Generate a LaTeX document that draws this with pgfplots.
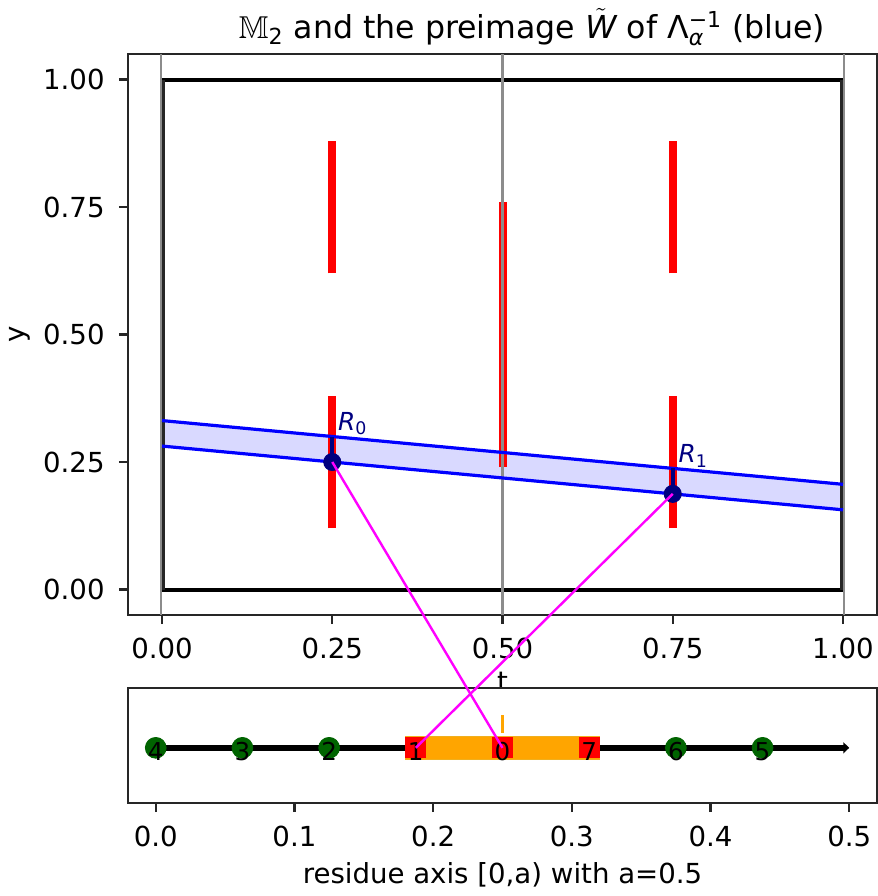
\documentclass[border=0pt]{standalone}
\usepackage{fontspec}
\setmainfont{DejaVu Sans}
\usepackage{amssymb}
\usepackage{pgfplots}
\pgfplotsset{compat=1.18}
\usetikzlibrary{arrows.meta}

\definecolor{bandfill}{RGB}{217,217,255}
\definecolor{navyc}{RGB}{0,0,128}
\definecolor{dgreen}{RGB}{0,100,0}
\definecolor{orng}{RGB}{255,165,0}
\definecolor{orngedge}{RGB}{240,175,30}
\definecolor{gline}{RGB}{140,140,140}
\definecolor{mag}{RGB}{255,0,255}

\newcommand{\tickfont}{\fontsize{13.8}{16}\selectfont}

\pgfplotsset{
  mpl/.style={
    scale only axis, width=374.5pt,
    axis line style={line width=1.1pt, black!85},
    tick align=outside, major tick length=4.5pt,
    tick style={line width=1.1pt, black!85},
    xtick pos=bottom, ytick pos=left,
    tick label style={font=\tickfont},
    label style={font=\tickfont},
    /pgf/number format/assume math mode=true,
    xticklabel style={anchor=north, inner sep=0pt, yshift=-7pt},
    yticklabel style={anchor=east, inner sep=0pt, xshift=-7pt},
  }
}

\begin{document}
\begin{tikzpicture}
\useasboundingbox (0,0) rectangle (439pt,-448pt);

% main panel
\begin{axis}[mpl, name=top,
  at={(64pt,-27pt)}, anchor=north west, height=280.5pt,
  xmin=-0.05, xmax=1.05, ymin=-0.05, ymax=1.05,
  xtick={0,0.25,0.5,0.75,1}, ytick={0,0.25,0.5,0.75,1},
  xticklabel style={/pgf/number format/.cd, fixed, fixed zerofill, precision=2},
  yticklabel style={/pgf/number format/.cd, fixed, fixed zerofill, precision=2},
  xlabel={t}, ylabel={y},
  xlabel style={at={(axis description cs:0.5,0)}, anchor=north, inner sep=0pt, yshift=-28.5pt},
  ylabel style={at={(axis description cs:-0.145,0.5)}, anchor=center, inner sep=0pt},
]
% band
\addplot[fill=bandfill, draw=none] coordinates {(0,0.33125) (1,0.20625) (1,0.15625) (0,0.28125)} -- cycle;
% box
\addplot[black, line width=2pt] coordinates {(0,0) (1,0)};
\addplot[black, line width=2pt] coordinates {(0,1) (1,1)};
\addplot[black!85, line width=1.2pt] coordinates {(0.002,0) (0.002,1)};
\addplot[black!85, line width=1.2pt] coordinates {(0.998,0) (0.998,1)};
% red segments
\addplot[red, line width=4pt] coordinates {(0.25,0.12) (0.25,0.38)};
\addplot[red, line width=4pt] coordinates {(0.25,0.62) (0.25,0.88)};
\addplot[red, line width=4pt] coordinates {(0.5,0.24) (0.5,0.76)};
\addplot[red, line width=4pt] coordinates {(0.75,0.12) (0.75,0.38)};
\addplot[red, line width=4pt] coordinates {(0.75,0.62) (0.75,0.88)};
% gray verticals
\addplot[gline, line width=1.1pt] coordinates {(-0.001,-0.05) (-0.001,1.05)};
\addplot[gline, line width=1.1pt] coordinates {(0.5,-0.05) (0.5,1.05)};
\addplot[gline, line width=1.1pt] coordinates {(1.001,-0.05) (1.001,1.05)};
% band edges
\addplot[blue, line width=1.6pt] coordinates {(0,0.33125) (1,0.20625)};
\addplot[blue, line width=1.6pt] coordinates {(0,0.28125) (1,0.15625)};
% R points
\addplot[navyc, line width=1.8pt] coordinates {(0.25,0.25) (0.25,0.30)};
\addplot[navyc, line width=1.8pt] coordinates {(0.75,0.1875) (0.75,0.2375)};
\addplot[only marks, mark=*, mark size=4.3pt, navyc] coordinates {(0.25,0.25) (0.75,0.1875)};
\node[navyc, anchor=west, inner sep=0pt, font=\fontsize{12.4}{14}\selectfont] at (axis cs:0.258,0.325) {\itshape R\textsubscript{\upshape 0}};
\node[navyc, anchor=west, inner sep=0pt, font=\fontsize{12.4}{14}\selectfont] at (axis cs:0.758,0.262) {\itshape R\textsubscript{\upshape 1}};
\coordinate (R0) at (axis cs:0.25,0.25);
\coordinate (R1) at (axis cs:0.75,0.1875);
\end{axis}

% residue axis
\begin{axis}[mpl, name=bot,
  at={(64pt,-344pt)}, anchor=north west, height=57.5pt,
  xmin=-0.02, xmax=0.52, ymin=-0.96, ymax=1.04,
  ytick=\empty, xtick={0,0.1,0.2,0.3,0.4,0.5},
  xticklabel style={/pgf/number format/.cd, fixed, fixed zerofill, precision=1},
  xlabel={residue axis [0,a) with a=0.5},
  xlabel style={at={(axis description cs:0.5,0)}, anchor=north, inner sep=0pt, yshift=-29.5pt},
  axis background/.style={fill=white},
]
\addplot[black, line width=3pt, -{Triangle[length=3pt 0, width=5.5pt 0]}] coordinates {(0,0) (0.5,0)};
\addplot[only marks, mark=*, mark size=5.2pt, dgreen] coordinates {(0,0) (0.0625,0) (0.125,0) (0.375,0) (0.4375,0)};
\addplot[fill=orng, draw=orngedge, line width=0.6pt] coordinates {(0.18,-0.2) (0.32,-0.2) (0.32,0.2) (0.18,0.2)} -- cycle;
\addplot[only marks, mark=square*, mark size=5pt, red] coordinates {(0.1875,0) (0.25,0) (0.3125,0)};
\addplot[orng, line width=1.2pt] coordinates {(0.25,0.26) (0.25,0.57)};
\addplot[only marks, mark=none, nodes near coords, point meta=explicit symbolic,
  nodes near coords style={anchor=center, inner sep=0pt, black, font=\fontsize{12.3}{14}\selectfont}]
  table[meta=lab] {
x y lab
0 -0.07 4
0.0625 -0.07 3
0.125 -0.07 2
0.1875 -0.07 1
0.25 -0.07 0
0.3125 -0.07 7
0.375 -0.07 6
0.4375 -0.07 5
};
\coordinate (B0) at (axis cs:0.25,0);
\coordinate (B1) at (axis cs:0.1875,0);
\end{axis}

\draw[mag, line width=1.2pt] (R0) -- (B0);
\draw[mag, line width=1.2pt] (R1) -- (B1);

\node[anchor=base, inner sep=0pt, font=\fontsize{15.8}{18}\selectfont] at (266pt,-19pt)
  {$\mathbb{M}$\textsubscript{2} and the preimage $\tilde{\hbox{\itshape W}}$ of Λ$^{\hbox{\fontsize{11}{12}\selectfont −1}}_{\hbox{\fontsize{11}{12}\selectfont\itshape α}}$ (blue)};
\end{tikzpicture}
\end{document}
